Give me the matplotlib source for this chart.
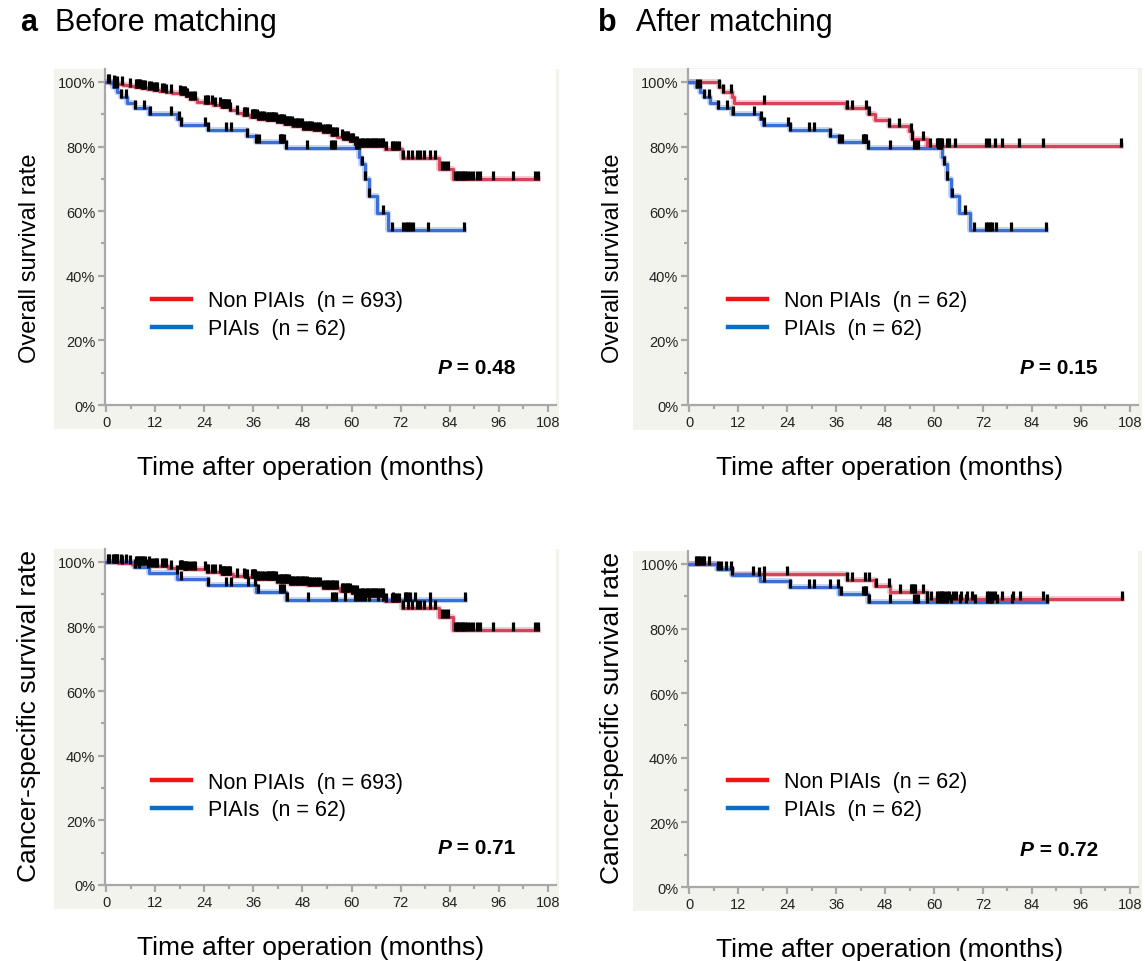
import numpy as np
import matplotlib
matplotlib.use('Agg')
import matplotlib.pyplot as plt
from matplotlib.patches import Rectangle
from matplotlib.lines import Line2D
from matplotlib.path import Path

plt.rcParams['font.family'] = ['Liberation Sans', 'DejaVu Sans']

# ---- data (months, survival %) ----
x_ticks = [0, 12, 24, 36, 48, 60, 72, 84, 96, 108]
y_ticks = [0, 20, 40, 60, 80, 100]
y_tick_labels = ['0%', '20%', '40%', '60%', '80%', '100%']

# overall survival, non PIAIs (n = 693), before matching
nonpiai_os_t = [1.0, 2.0, 3.0, 4.2, 5.5, 7.0, 8.5, 9.9, 11.5, 13.0, 14.5, 16.0, 18.1, 19.5,
                20.5, 22.2, 24.0, 26.0, 28.0, 30.3, 32.0, 33.5, 35.2, 37.0, 39.0, 41.7, 43.5,
                45.5, 48.2, 50.5, 53.1, 55.0, 56.5, 58.0, 59.5, 60.8, 62.1, 68.2, 72.3, 81.5, 84.8]
nonpiai_os_s = [99.8, 99.5, 99.3, 99.0, 98.7, 98.4, 98.2, 97.9, 97.6, 97.3, 97.0, 96.7, 96.3, 95.5,
                94.8, 93.9, 93.5, 92.8, 92.1, 91.2, 90.5, 89.8, 89.1, 88.6, 88.1, 87.5, 87.0,
                86.3, 85.5, 85.0, 84.4, 83.6, 82.9, 82.3, 81.6, 80.9, 80.3, 79.3, 76.3, 73.1, 69.8]
nonpiai_os_end = 105.5

# cancer-specific survival, non PIAIs (n = 693), before matching
nonpiai_css_t = [3.0, 6.2, 10.8, 15.0, 18.9, 24.6, 28.0, 31.1, 34.0, 36.8, 41.7, 45.0, 49.1,
                 53.0, 57.2, 60.0, 62.1, 68.2, 72.3, 81.5, 84.8]
nonpiai_css_s = [99.7, 99.3, 98.7, 98.2, 97.8, 97.0, 96.3, 95.7, 95.2, 94.7, 93.7, 93.3, 92.8,
                 92.0, 91.1, 90.3, 89.6, 88.0, 85.8, 83.0, 79.0]
nonpiai_css_end = 105.5

# censored non PIAIs patients (before matching)
nonpiai_cens = [0.4, 0.8, 1.8, 2.2, 2.6, 3.8, 5.7, 7.3, 7.6, 8.0, 8.3, 8.7, 9.1, 9.5, 10.4, 10.9,
                11.6, 12.1, 12.4, 13.6, 14.2, 14.7, 15.8, 18.0, 18.3, 18.6, 18.9, 19.2, 19.5, 19.8,
                20.5, 21.3, 21.8, 24.2, 24.6, 25.0, 25.8, 26.7, 27.9, 28.2, 28.5, 28.8, 29.1, 29.4,
                29.7, 30.0, 30.3, 32.0, 33.6, 34.0, 34.4, 35.6, 35.9, 36.2, 36.5, 36.8, 37.2, 37.6,
                38.0, 38.5, 39.3, 39.6, 39.9, 40.2, 40.5, 40.8, 41.1, 41.4, 41.7, 42.5, 42.8, 43.1,
                43.4, 43.7, 44.0, 44.3, 44.6, 45.0, 45.4, 45.8, 46.2, 46.6, 47.0, 47.4, 47.8, 48.2,
                48.6, 49.0, 49.5, 49.9, 50.3, 50.8, 51.3, 51.8, 52.3, 53.1, 53.5, 53.9, 54.3, 54.7,
                55.1, 55.5, 56.0, 56.4, 57.6, 58.0, 58.4, 58.8, 59.2, 59.6, 60.0, 60.4, 60.8, 61.3,
                62.1, 62.5, 62.9, 63.3, 63.7, 64.1, 64.5, 64.9, 65.3, 65.7, 66.1, 66.5, 67.0, 67.4,
                67.8, 68.5, 69.8, 70.2, 70.6, 71.0, 71.5, 72.7, 73.9, 74.7, 76.0, 76.8, 77.8, 79.1,
                80.5, 82.1, 82.9, 83.7, 85.3, 85.7, 86.1, 86.5, 86.9, 87.3, 87.7, 88.3, 89.0, 89.8,
                90.6, 91.4, 94.7, 99.6, 104.9, 105.5]

# overall survival, PIAIs (n = 62)
piai_os_t = [1.7, 2.7, 3.5, 5.0, 7.0, 10.5, 17.3, 18.2, 24.8, 34.4, 36.6, 43.9,
             61.9, 62.4, 63.3, 64.2, 66.2, 68.9]
piai_os_s = [98.4, 96.8, 95.2, 93.5, 91.9, 90.2, 88.5, 86.8, 85.0, 83.2, 81.3, 79.4,
             76.9, 74.5, 69.9, 64.7, 59.5, 54.3]
piai_os_end = 87.5
piai_os_cens = [1.8, 2.6, 3.5, 4.9, 7.1, 9.2, 10.8, 15.9, 17.7, 18.3, 24.2, 24.8, 29.3, 30.6,
                34.4, 36.6, 37.4, 42.5, 42.8, 43.1, 43.4, 43.9, 49.1, 55.0, 55.5, 56.0, 61.0,
                61.4, 61.8, 62.5, 63.3, 64.3, 67.6, 69.8, 72.7, 73.2, 73.7, 74.3, 75.1, 78.8, 87.4]

# cancer-specific survival, PIAIs (n = 62)
piai_css_t = [6.8, 10.4, 17.3, 24.8, 36.6, 43.9]
piai_css_s = [98.3, 96.6, 94.7, 92.8, 90.7, 88.2]
piai_css_end = 87.7
piai_css_cens = [1.7, 2.7, 3.5, 4.9, 7.0, 7.9, 10.2, 17.2, 18.4, 24.8, 29.4, 30.6, 34.6, 36.5,
                 37.2, 42.6, 43.0, 43.4, 44.1, 49.3, 55.2, 55.6, 56.1, 58.4, 60.8, 61.4, 62.0,
                 62.6, 63.3, 64.2, 66.4, 67.8, 70.1, 73.0, 73.4, 73.9, 74.3, 75.4, 79.1, 87.7]

# matched non PIAIs (n = 62)
match_os_t = [7.2, 8.3, 10.5, 11.0, 38.5, 43.9, 45.6, 48.9, 53.9, 54.6, 58.3]
match_os_s = [98.4, 96.8, 95.2, 93.5, 91.8, 90.1, 88.3, 86.5, 84.7, 82.3, 80.1]
match_os_end = 105.8
match_os_cens = [7.4, 8.3, 10.2, 18.4, 38.6, 39.9, 43.3, 44.1, 49.0, 51.3, 54.3, 54.7, 57.2,
                 59.1, 60.7, 61.0, 61.3, 61.6, 61.9, 63.2, 63.6, 65.2, 72.8, 73.6, 75.0, 76.6,
                 80.9, 86.7, 105.8]

match_css_t = [7.4, 10.5, 38.6, 45.6, 49.1, 58.4]
match_css_s = [98.4, 96.8, 95.1, 93.3, 91.2, 89.2]
match_css_end = 106.0
match_css_cens = [1.9, 2.5, 3.3, 8.9, 10.6, 15.6, 18.4, 24.0, 38.6, 39.9, 43.2, 44.1, 45.7,
                  49.0, 51.6, 54.3, 54.7, 55.1, 55.4, 57.3, 58.4, 59.2, 60.7, 61.2, 61.6, 62.0,
                  62.5, 63.2, 63.6, 64.6, 65.4, 66.6, 68.0, 69.4, 73.0, 73.6, 74.2, 75.0, 76.6,
                  79.4, 81.1, 86.7, 106.0]

p_values = ['0.48', '0.15', '0.71', '0.72']

# ---- styling ----
RED = '#d6435b'
BLUE = '#3a6fd8'
LEG_RED = '#f01414'
LEG_BLUE = '#0a6cc4'
PANEL_BG = '#f3f3ed'
AXIS_GREY = '#a8a8a8'

# censor tick: short vertical bar sitting on top of the curve
tick_mark = Path([(0, -0.1), (0, 1)], [Path.MOVETO, Path.LINETO])


def draw_km(ax, times, surv, end, cens, color):
    t = [0] + times + [end]
    s = [100] + surv + [surv[-1]]
    ax.step(t, s, where='post', color=color, lw=4.2, alpha=0.3, zorder=2)
    ax.step(t, s, where='post', color=color, lw=2.2, zorder=3)
    idx = np.searchsorted(t, cens, side='right') - 1
    ax.plot(cens, np.array(s)[idx], ls='none', marker=tick_mark, ms=12, mew=2.3,
            color='black', zorder=4)


def setup_axes(ax, ylabel, ylab_size, ylab_y, xlab_x, leg_x, leg_y, n_non, p):
    ax.set_facecolor('white')
    ax.set_xlim(-0.3, 110)
    ax.set_ylim(0, 104)
    ax.set_xticks(x_ticks)
    ax.set_xticks([v + 6 for v in x_ticks[:-1]], minor=True)
    ax.set_yticks(y_ticks)
    ax.set_yticklabels(y_tick_labels)
    ax.set_yticks([v + 10 for v in y_ticks[:-1]], minor=True)
    for side in ['top', 'right']:
        ax.spines[side].set_visible(False)
    for side in ['left', 'bottom']:
        ax.spines[side].set_color(AXIS_GREY)
        ax.spines[side].set_linewidth(1.6)
    ax.tick_params(which='major', length=5, width=1.6, color=AXIS_GREY,
                   labelsize=10.5, labelcolor='#222222', pad=2)
    ax.tick_params(which='minor', length=3, width=1.6, color=AXIS_GREY)
    ax.set_ylabel(ylabel, fontsize=ylab_size)
    ax.yaxis.set_label_coords(-0.142, ylab_y)
    ax.set_xlabel('Time after operation (months)', fontsize=19)
    ax.xaxis.set_label_coords(xlab_x, -0.15)

    handles = [Line2D([], [], color=LEG_RED, lw=3.2), Line2D([], [], color=LEG_BLUE, lw=3.2)]
    labels = ['Non PIAIs  (n = %d)' % n_non, 'PIAIs  (n = 62)']
    ax.legend(handles, labels, loc='center left', bbox_to_anchor=(leg_x, leg_y),
              frameon=False, fontsize=15.5, handlelength=1.8, handletextpad=0.8,
              labelspacing=0.32, borderpad=0, borderaxespad=0)

    t1 = ax.text(0.911, 0.113, ' = ' + p, transform=ax.transAxes, ha='right', va='center',
                 fontsize=15, fontweight='bold')
    ax.annotate('P', xy=(0, 0.5), xycoords=t1, ha='right', va='center',
                fontsize=15, fontweight='bold', fontstyle='italic')


fig = plt.figure(figsize=(11.45, 9.62), dpi=100)
W, H = 1145.0, 962.0


def panel_bg(x0, y0, x1, y1):
    # light backdrop behind each plot, given in pixels from the top-left
    fig.patches.append(Rectangle((x0 / W, 1 - y1 / H), (x1 - x0) / W, (y1 - y0) / H,
                                 transform=fig.transFigure, facecolor=PANEL_BG,
                                 edgecolor='none', zorder=-1))


panel_bg(54, 70, 559, 430)
panel_bg(633, 69, 1142, 431)
panel_bg(54, 550, 559, 910)
panel_bg(633, 552, 1142, 912)

ax_tl = fig.add_axes([105 / W, 1 - 406 / H, 451 / W, 336 / H])
ax_tr = fig.add_axes([688 / W, 1 - 406 / H, 450 / W, 336 / H])
ax_bl = fig.add_axes([105 / W, 1 - 886 / H, 451 / W, 336 / H])
ax_br = fig.add_axes([688 / W, 1 - 888 / H, 450 / W, 336 / H])

draw_km(ax_tl, nonpiai_os_t, nonpiai_os_s, nonpiai_os_end, nonpiai_cens, RED)
draw_km(ax_tl, piai_os_t, piai_os_s, piai_os_end, piai_os_cens, BLUE)
setup_axes(ax_tl, 'Overall survival rate', 17, 0.44, 0.455, 0.104, 0.269, 693, p_values[0])

draw_km(ax_tr, match_os_t, match_os_s, match_os_end, match_os_cens, RED)
draw_km(ax_tr, piai_os_t, piai_os_s, piai_os_end, piai_os_cens, BLUE)
setup_axes(ax_tr, 'Overall survival rate', 17, 0.44, 0.449, 0.089, 0.269, 62, p_values[1])

draw_km(ax_bl, nonpiai_css_t, nonpiai_css_s, nonpiai_css_end, nonpiai_cens, RED)
draw_km(ax_bl, piai_css_t, piai_css_s, piai_css_end, piai_css_cens, BLUE)
setup_axes(ax_bl, 'Cancer-specific survival rate', 19, 0.505, 0.455, 0.104, 0.265, 693,
           p_values[2])

draw_km(ax_br, match_css_t, match_css_s, match_css_end, match_css_cens, RED)
draw_km(ax_br, piai_css_t, piai_css_s, piai_css_end, piai_css_cens, BLUE)
setup_axes(ax_br, 'Cancer-specific survival rate', 19, 0.505, 0.449, 0.089, 0.271, 62,
           p_values[3])

# panel headings
fig.text(20 / W, 1 - 23 / H, 'a', fontsize=22, fontweight='bold', va='center')
fig.text(55 / W, 1 - 23 / H, 'Before matching', fontsize=22, va='center')
fig.text(598 / W, 1 - 23 / H, 'b', fontsize=22, fontweight='bold', va='center')
fig.text(636 / W, 1 - 23 / H, 'After matching', fontsize=22, va='center')

fig.savefig('out.png', dpi=100)
